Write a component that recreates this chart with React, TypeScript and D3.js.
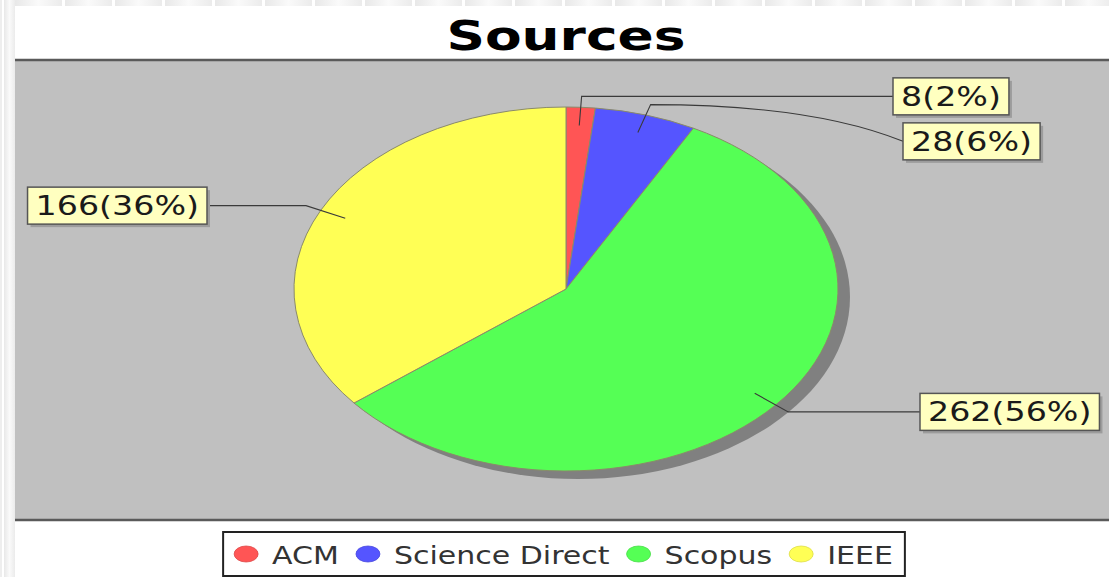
import React, { useEffect, useRef } from "react";
import * as d3 from "d3";

// data
const categories = ["ACM", "Science Direct", "Scopus", "IEEE"];
const counts = [8, 28, 262, 166];
const sliceColors = ["#ff5555", "#5555ff", "#55ff55", "#ffff55"];
const chartTitle = "Sources";

// layout
const W = 1109;
const H = 577;
const plotTop = 60;
const plotBottom = 520;
const plotLeft = 15;
const cx = 566;
const cy = 289;
const rx = 272;
const ry = 182;
const shadowDx = 12;
const shadowDy = 8;
const labelEdgeX = [893, 903, 920, 207]; // left edge (right side) / right edge (left side)
const labelFont = "'DejaVu Sans', Verdana, sans-serif";

const App = () => {
  const ref = useRef<SVGSVGElement>(null);

  useEffect(() => {
    const svg = d3.select(ref.current);
    svg.selectAll("*").remove();

    const defs = svg.append("defs");
    const grad = defs.append("linearGradient").attr("id", "tabGrad");
    grad.append("stop").attr("offset", "0%").attr("stop-color", "#e8e8e8");
    grad.append("stop").attr("offset", "50%").attr("stop-color", "#fafafa");
    grad.append("stop").attr("offset", "100%").attr("stop-color", "#ebebeb");

    // page chrome
    svg.append("rect").attr("width", W).attr("height", H).attr("fill", "#fff");
    svg.append("rect").attr("x", 0).attr("y", 0).attr("width", 2).attr("height", H).attr("fill", "#eeeeee");
    svg.append("rect").attr("x", 4).attr("y", 0).attr("width", 11).attr("height", H).attr("fill", "url(#tabGrad)");
    d3.range(15, W, 50).forEach(x => {
      svg.append("rect").attr("x", x).attr("y", 0).attr("width", 47).attr("height", 6).attr("fill", "url(#tabGrad)");
    });

    // title
    svg.append("g")
      .attr("transform", `translate(${cx},50) scale(1.335,1)`)
      .append("text")
      .attr("text-anchor", "middle")
      .attr("font-family", labelFont)
      .attr("font-weight", "bold")
      .attr("font-size", 40)
      .attr("fill", "#000")
      .text(chartTitle);

    // plot area
    svg.append("rect")
      .attr("x", plotLeft).attr("y", plotTop)
      .attr("width", W - plotLeft).attr("height", plotBottom - plotTop)
      .attr("fill", "#c0c0c0");
    [plotTop, plotBottom].forEach(y => {
      svg.append("line").attr("x1", plotLeft).attr("x2", W).attr("y1", y).attr("y2", y)
        .attr("stroke", "#5a5a5a").attr("stroke-width", 2.5);
    });

    const total = d3.sum(counts);
    const pie = d3.pie<number>().sort(null).value(d => d)(counts);
    const arc = d3.arc<d3.PieArcDatum<number>>().innerRadius(0).outerRadius(ry);

    // shadow
    svg.append("ellipse")
      .attr("cx", cx + shadowDx).attr("cy", cy + shadowDy)
      .attr("rx", rx).attr("ry", ry)
      .attr("fill", "#808080");

    const g = svg.append("g").attr("transform", `translate(${cx},${cy}) scale(${rx / ry},1)`);
    g.selectAll("path")
      .data(pie)
      .join("path")
      .attr("d", d => arc(d) as string)
      .attr("fill", (d, i) => sliceColors[i])
      .attr("stroke", "#8a8a6a")
      .attr("stroke-width", 1)
      .attr("vector-effect", "non-scaling-stroke");

    const pt = (a: number, f: number) => [cx + f * rx * Math.sin(a), cy - f * ry * Math.cos(a)];

    // labels
    const boxH = 37;
    const minGap = 45;
    const sx = 1.28;
    const items = pie.map((p, i) => {
      const mid = (p.startAngle + p.endAngle) / 2;
      const anchor = pt(mid, 0.9);
      const elbow = pt(mid, 1.06);
      return { i, mid, anchor, elbow, right: Math.sin(mid) >= 0, y: elbow[1] };
    });
    // push overlapping labels downward, per side
    [true, false].forEach(side => {
      const list = items.filter(d => d.right === side).sort((a, b) => a.y - b.y);
      for (let k = 1; k < list.length; k++) {
        if (list[k].y - list[k - 1].y < minGap) list[k].y = list[k - 1].y + minGap;
      }
    });

    items.forEach(d => {
      const v = counts[d.i];
      const label = `${v}(${Math.round((v / total) * 100)}%)`;
      const edge = labelEdgeX[d.i];

      const lg = svg.append("g");
      const shadow = lg.append("rect").attr("fill", "#9c9c9c");
      const box = lg.append("rect").attr("fill", "#ffffc0").attr("stroke", "#555").attr("stroke-width", 1.5);
      const tg = lg.append("g");
      const txt = tg.append("text")
        .attr("font-family", labelFont)
        .attr("font-size", 26)
        .attr("fill", "#1a1a1a")
        .text(label);
      const tw = (txt.node() as SVGTextElement).getComputedTextLength() * sx;
      const bw = tw + 16;
      const bx = d.right ? edge : edge - bw;
      shadow.attr("x", bx + 3).attr("y", d.y - boxH / 2 + 3).attr("width", bw).attr("height", boxH);
      box.attr("x", bx).attr("y", d.y - boxH / 2).attr("width", bw).attr("height", boxH);
      tg.attr("transform", `translate(${bx + 8},${d.y + 9.5}) scale(${sx},1)`);

      const tx = d.right ? bx : bx + bw;
      const [ex, ey] = d.elbow;
      const ctrlX = tx - 0.36 * (tx - ex);
      const path = d3.path();
      path.moveTo(d.anchor[0], d.anchor[1]);
      path.lineTo(ex, ey);
      path.quadraticCurveTo(ctrlX, ey, tx, d.y);
      svg.insert("path", () => lg.node())
        .attr("d", path.toString())
        .attr("fill", "none")
        .attr("stroke", "#3a3a3a")
        .attr("stroke-width", 1.1);
    });

    // legend
    const legendY = 554;
    const lsx = 1.2;
    const leg = svg.append("g");
    const legBox = leg.append("rect").attr("fill", "#fff").attr("stroke", "#222").attr("stroke-width", 2);
    let x = 0;
    categories.forEach((c, i) => {
      if (i > 0) x += 17;
      leg.append("ellipse")
        .attr("cx", x + 12).attr("cy", legendY)
        .attr("rx", 12).attr("ry", 8)
        .attr("fill", sliceColors[i])
        .attr("stroke", d3.color(sliceColors[i])!.darker(0.4).toString())
        .attr("stroke-width", 0.8);
      const tg = leg.append("g").attr("transform", `translate(${x + 38},${legendY + 10}) scale(${lsx},1)`);
      const t = tg.append("text")
        .attr("font-family", labelFont)
        .attr("font-size", 25)
        .attr("fill", "#333")
        .text(c);
      x += 38 + (t.node() as SVGTextElement).getComputedTextLength() * lsx;
    });
    const legW = x + 11 + 12;
    const legX = 564 - legW / 2;
    leg.attr("transform", `translate(${legX + 11},0)`);
    legBox.attr("x", -11).attr("y", 532).attr("width", legW).attr("height", 44);
  }, []);

  return (
    <svg
      ref={ref}
      width={W}
      height={H}
      style={{ position: "absolute", left: 0, top: 0, display: "block" }}
    />
  );
};

export default App;
